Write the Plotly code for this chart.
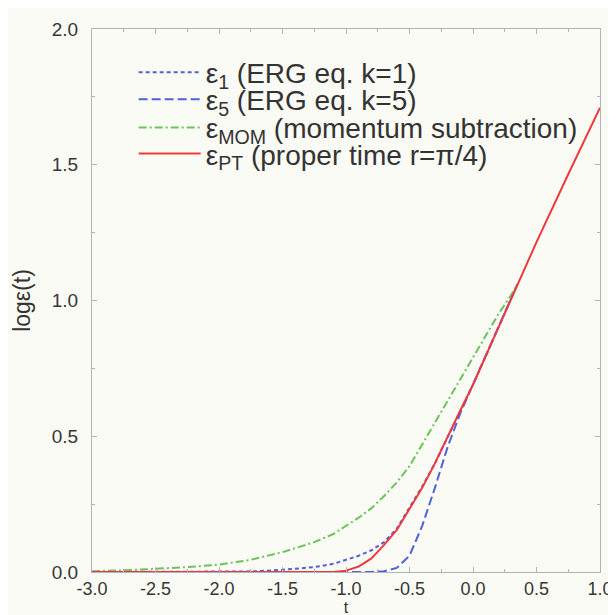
import plotly.graph_objects as go

t_main = [-3.0, -2.75, -2.5, -2.25, -2.0, -1.75, -1.5, -1.25, -1.1, -1.0, -0.9, -0.8, -0.7,
          -0.6, -0.5, -0.4, -0.3, -0.2, -0.1, 0.0, 0.1, 0.2, 0.3, 0.35]
t_pt = t_main[:-1] + [0.5, 0.75, 1.0]

eps_k1 = [0.0, 0.0, 0.0, 0.0, 0.0, 0.002, 0.008, 0.018, 0.03, 0.045, 0.06, 0.08, 0.11,
          0.16, 0.235, 0.315, 0.40, 0.495, 0.59, 0.69, 0.795, 0.90, 1.01, 1.06]
eps_k5 = [0.0, 0.0, 0.0, 0.0, 0.0, 0.0, 0.0, 0.0, 0.0, 0.0, 0.0, 0.0, 0.003,
          0.015, 0.06, 0.17, 0.31, 0.46, 0.585, 0.69, 0.795, 0.90, 1.01, 1.06]
eps_mom = [0.003, 0.006, 0.012, 0.018, 0.027, 0.045, 0.073, 0.11, 0.14, 0.17, 0.20, 0.235, 0.28,
           0.33, 0.39, 0.47, 0.55, 0.63, 0.71, 0.79, 0.87, 0.95, 1.02, 1.06]
eps_pt = [0.0, 0.0, 0.0, 0.0, 0.0, 0.0, 0.0, 0.0, 0.0, 0.005, 0.02, 0.05, 0.10,
          0.155, 0.23, 0.31, 0.40, 0.50, 0.595, 0.69, 0.795, 0.90, 1.01, 1.215, 1.465, 1.71]

x_tick_vals = [-3.0, -2.5, -2.0, -1.5, -1.0, -0.5, 0.0, 0.5, 1.0]
x_tick_text = ["-3.0", "-2.5", "-2.0", "-1.5", "-1.0", "-0.5", "0.0", "0.5", "1.0"]
y_tick_vals = [0.0, 0.5, 1.0, 1.5, 2.0]
y_tick_text = ["0.0", "0.5", "1.0", "1.5", "2.0"]

names = ["ε<sub>1</sub> (ERG eq. k=1)", "ε<sub>5</sub> (ERG eq. k=5)",
         "ε<sub>MOM</sub> (momentum subtraction)", "ε<sub>PT</sub> (proper time r=π/4)"]

blue = "#4f62d6"
green = "#6cc35a"
red = "#ee3a3a"
font_fam = "Liberation Sans, Arial, sans-serif"

fig = go.Figure()
fig.add_trace(go.Scatter(x=t_main, y=eps_k1, mode="lines", name=names[0], legend="legend",
                         line=dict(color=blue, width=2, dash="4px,3px")))
fig.add_trace(go.Scatter(x=t_main, y=eps_k5, mode="lines", name=names[1], legend="legend2",
                         line=dict(color=blue, width=2, dash="9px,4px")))
fig.add_trace(go.Scatter(x=t_main, y=eps_mom, mode="lines", name=names[2], legend="legend3",
                         line=dict(color=green, width=2, dash="8px,3px,2px,3px")))
fig.add_trace(go.Scatter(x=t_pt, y=eps_pt, mode="lines", name=names[3], legend="legend4",
                         line=dict(color=red, width=2)))

frame = "#aeb3bd"
axis_common = dict(showline=True, linecolor=frame, linewidth=1, mirror="ticks",
                   ticks="inside", ticklen=5, tickcolor=frame, showgrid=False,
                   zeroline=False, ticklabeloverflow="allow",
                   minor=dict(ticks="inside", ticklen=3, tickcolor=frame))

fig.update_xaxes(range=[-3, 1], tickvals=x_tick_vals, ticktext=x_tick_text,
                 tickfont=dict(family=font_fam, size=18, color="#363636"),
                 title=dict(text="t", font=dict(family=font_fam, size=16, color="#333"),
                            standoff=2),
                 **axis_common)
fig.update_xaxes(minor_dtick=0.25, minor_tick0=-3)
fig.update_yaxes(range=[0, 2], tickvals=y_tick_vals, ticktext=y_tick_text,
                 ticklabelstandoff=9,
                 tickfont=dict(family=font_fam, size=19, color="#363636"),
                 title=dict(text="logε(t)", font=dict(family=font_fam, size=23, color="#333"),
                            standoff=14),
                 **axis_common)
fig.update_yaxes(minor_dtick=0.25, minor_tick0=0)

leg_base = dict(x=0.082, xanchor="left", yanchor="middle",
                bgcolor="rgba(0,0,0,0)", borderwidth=0,
                font=dict(family=font_fam, size=28, color="#333333"),
                itemwidth=62)
row_y = [0.92, 0.87, 0.818, 0.77]

fig.update_layout(
    width=616, height=615,
    margin=dict(l=84, r=12, t=11, b=49),
    paper_bgcolor="#fbfbf6", plot_bgcolor="#fbfbf6",
    showlegend=True,
    legend=dict(y=row_y[0], **leg_base),
    legend2=dict(y=row_y[1], **leg_base),
    legend3=dict(y=row_y[2], **leg_base),
    legend4=dict(y=row_y[3], **leg_base),
)

fig.write_html("out.html")
